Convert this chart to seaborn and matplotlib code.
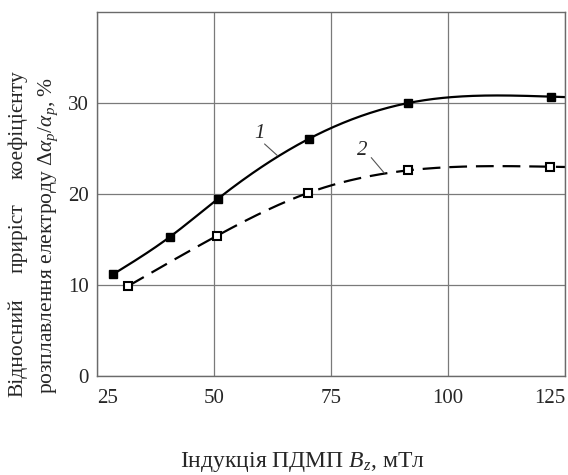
import numpy as np
import matplotlib
matplotlib.use("Agg")
import matplotlib.pyplot as plt
import seaborn as sns

b_z_1 = [28.5, 40.6, 50.9, 70.4, 91.5, 122.1]
gain_1 = [11.2, 15.3, 19.5, 26.1, 30.0, 30.7]
b_z_2 = [31.7, 50.6, 70.0, 91.5, 121.7]
gain_2 = [9.9, 15.4, 20.1, 22.6, 23.0]

x_ticks = [25, 50, 75, 100, 125]
y_ticks = [0, 10, 20, 30]

sns.set_style("white")
plt.rcParams["font.family"] = ["Liberation Serif", "DejaVu Serif"]
plt.rcParams["mathtext.fontset"] = "custom"
plt.rcParams["mathtext.rm"] = "Liberation Serif"
plt.rcParams["mathtext.it"] = "Liberation Serif:italic"

fig = plt.figure(figsize=(5.68, 4.75), dpi=100)
ax = fig.add_axes([0.1708, 0.2084, 0.8239, 0.7663])


def smooth_curve(x, y, x_end, n=300):
    # natural cubic spline through the measured points,
    # carried on to the right edge along the end slope
    x = np.asarray(x, float)
    y = np.asarray(y, float)
    k = len(x)
    h = np.diff(x)
    A = np.zeros((k, k))
    r = np.zeros(k)
    A[0, 0] = A[-1, -1] = 1
    for i in range(1, k - 1):
        A[i, i - 1] = h[i - 1]
        A[i, i] = 2 * (h[i - 1] + h[i])
        A[i, i + 1] = h[i]
        r[i] = 3 * ((y[i + 1] - y[i]) / h[i] - (y[i] - y[i - 1]) / h[i - 1])
    c = np.linalg.solve(A, r)
    b = (y[1:] - y[:-1]) / h - h * (2 * c[:-1] + c[1:]) / 3
    d = (c[1:] - c[:-1]) / (3 * h)
    end_slope = b[-1] + 2 * c[-2] * h[-1] + 3 * d[-1] * h[-1] ** 2
    xs = np.linspace(x[0], x_end, n)
    ys = np.empty_like(xs)
    for j, xv in enumerate(xs):
        if xv >= x[-1]:
            ys[j] = y[-1] + end_slope * (xv - x[-1])
            continue
        i = min(np.searchsorted(x, xv, side="right") - 1, k - 2)
        t = xv - x[i]
        ys[j] = y[i] + b[i] * t + c[i] * t**2 + d[i] * t**3
    return xs, ys


xs1, ys1 = smooth_curve(b_z_1, gain_1, 125)
xs2, ys2 = smooth_curve(b_z_2, gain_2, 125)

sns.lineplot(x=xs1, y=ys1, ax=ax, color="black", linewidth=1.6, sort=False)
sns.lineplot(x=xs2, y=ys2, ax=ax, color="black", linewidth=1.6, sort=False,
             linestyle=(0, (8, 4)))
ax.plot(b_z_1, gain_1, ls="none", marker="s", ms=6, mfc="black", mec="black")
ax.plot(b_z_2, gain_2, ls="none", marker="s", ms=6, mfc="white", mec="black",
        mew=1.5)

ax.set_xlim(25, 125)
ax.set_ylim(0, 40)
ax.set_xticks(x_ticks)
ax.set_yticks(y_ticks)
ax.tick_params(labelsize=15, length=0)
ax.tick_params(axis="y", pad=6)
ax.tick_params(axis="x", pad=9)
xl = ax.get_xticklabels()
xl[0].set_ha("left")
xl[-1].set_ha("right")
ax.grid(True, color="#7a7a7a", linewidth=0.9)
for s in ax.spines.values():
    s.set_color("#6a6a6a")
    s.set_linewidth(1.0)

# curve labels with leader lines
ax.text(59.7, 26.6, "1", fontsize=15, style="italic", ha="center", va="center")
ax.plot([60.8, 63.6], [25.5, 24.2], color="#555555", lw=0.8)
ax.text(81.7, 24.8, "2", fontsize=15, style="italic", ha="center", va="center")
ax.plot([83.6, 86.4], [24.0, 22.3], color="#555555", lw=0.8)

# axis labels
fig.text(0.532, 0.027, "Індукція ПДМП $B_z$, мТл", fontsize=17,
         ha="center", va="center")
lab_fs = 15.5
fig.text(0.032, 1 - 397 / 475, "Відносний", rotation=90, fontsize=lab_fs,
         ha="center", va="bottom")
fig.text(0.032, 1 - 238 / 475, "приріст", rotation=90, fontsize=lab_fs,
         ha="center", va="center")
fig.text(0.032, 1 - 70 / 475, "коефіцієнту", rotation=90, fontsize=lab_fs,
         ha="center", va="top")
fig.text(0.085, 1 - 235 / 475,
         r"розплавлення електроду $\Delta\alpha_p/\alpha_p$, %",
         rotation=90, fontsize=lab_fs, ha="center", va="center")

fig.savefig("out.png", dpi=100)
